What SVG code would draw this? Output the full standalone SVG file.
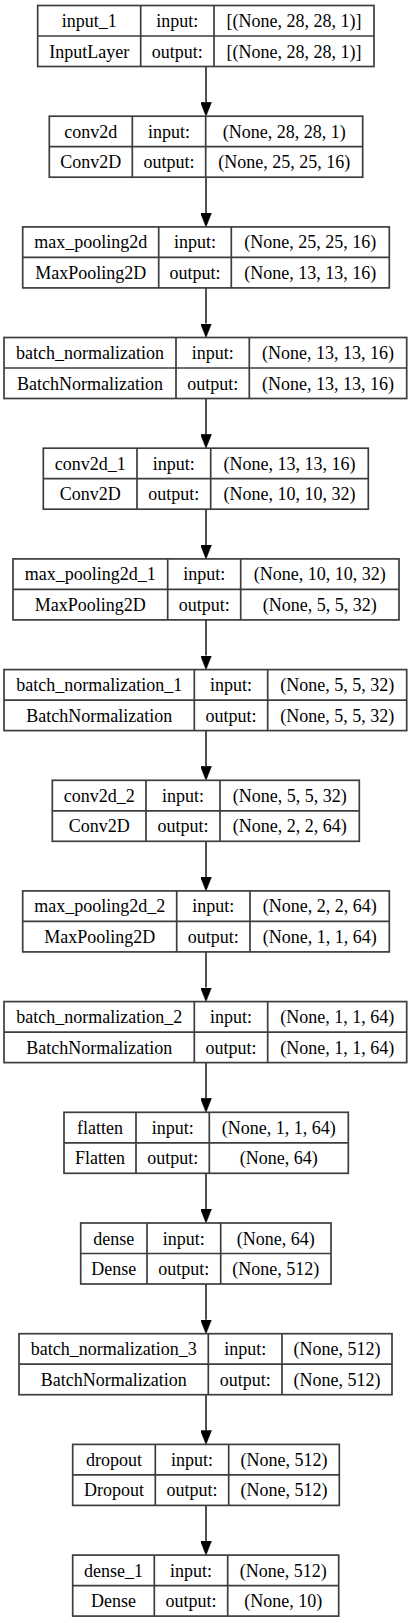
<svg xmlns="http://www.w3.org/2000/svg" width="412" height="1623" viewBox="0 0 412 1623">
<style>
.box{fill:#fff;stroke:#3d3d3d;stroke-width:1.7}
.ln{stroke:#3d3d3d;stroke-width:1.7;fill:none}
.t{font-family:"Liberation Serif","Times New Roman",serif;font-size:18px;fill:#000;text-anchor:middle}
.edge{stroke:#3d3d3d;stroke-width:1.8;fill:none;marker-end:url(#ah)}
</style>
<defs>
<marker id="ah" markerUnits="userSpaceOnUse" viewBox="0 0 14 11" markerWidth="14" markerHeight="11" refX="0" refY="5.5" orient="auto">
<path d="M0,0 L14,5.5 L0,11 z" fill="#000" stroke="#000" stroke-width="0.5"/>
</marker>
</defs>
<rect width="412" height="1623" fill="#fff"/>
<g id="edges">
<line class="edge" x1="206" y1="66.5" x2="206" y2="102.2"/>
<line class="edge" x1="206" y1="177.2" x2="206" y2="212.9"/>
<line class="edge" x1="206" y1="287.9" x2="206" y2="323.5"/>
<line class="edge" x1="206" y1="398.5" x2="206" y2="434.2"/>
<line class="edge" x1="206" y1="509.2" x2="206" y2="544.9"/>
<line class="edge" x1="206" y1="619.9" x2="206" y2="655.6"/>
<line class="edge" x1="206" y1="730.6" x2="206" y2="766.3"/>
<line class="edge" x1="206" y1="841.3" x2="206" y2="876.9"/>
<line class="edge" x1="206" y1="951.9" x2="206" y2="987.6"/>
<line class="edge" x1="206" y1="1062.6" x2="206" y2="1098.3"/>
<line class="edge" x1="206" y1="1173.3" x2="206" y2="1209"/>
<line class="edge" x1="206" y1="1284" x2="206" y2="1319.7"/>
<line class="edge" x1="206" y1="1394.7" x2="206" y2="1430.4"/>
<line class="edge" x1="206" y1="1505.4" x2="206" y2="1541.1"/>
</g>
<g id="input_1" transform="translate(0,5.5)">
<rect class="box" x="37.7" y="0" width="336.3" height="61"/>
<line class="ln" x1="37.7" y1="30.5" x2="374" y2="30.5"/>
<line class="ln" x1="140.7" y1="0" x2="140.7" y2="61"/>
<line class="ln" x1="214" y1="0" x2="214" y2="61"/>
<text class="t" x="89.2" y="21.5">input_1</text><text class="t" x="177.3" y="21.5">input:</text><text class="t" x="294" y="21.5">[(None, 28, 28, 1)]</text>
<text class="t" x="89.2" y="52">InputLayer</text><text class="t" x="177.3" y="52">output:</text><text class="t" x="294" y="52">[(None, 28, 28, 1)]</text>
</g>
<g id="conv2d" transform="translate(0,116.2)">
<rect class="box" x="49.3" y="0" width="313.4" height="61"/>
<line class="ln" x1="49.3" y1="30.5" x2="362.7" y2="30.5"/>
<line class="ln" x1="132.3" y1="0" x2="132.3" y2="61"/>
<line class="ln" x1="205.7" y1="0" x2="205.7" y2="61"/>
<text class="t" x="90.8" y="21.5">conv2d</text><text class="t" x="169" y="21.5">input:</text><text class="t" x="284.2" y="21.5">(None, 28, 28, 1)</text>
<text class="t" x="90.8" y="52">Conv2D</text><text class="t" x="169" y="52">output:</text><text class="t" x="284.2" y="52">(None, 25, 25, 16)</text>
</g>
<g id="max_pooling2d" transform="translate(0,226.9)">
<rect class="box" x="22.7" y="0" width="366.6" height="61"/>
<line class="ln" x1="22.7" y1="30.5" x2="389.3" y2="30.5"/>
<line class="ln" x1="158.7" y1="0" x2="158.7" y2="61"/>
<line class="ln" x1="231.3" y1="0" x2="231.3" y2="61"/>
<text class="t" x="90.7" y="21.5">max_pooling2d</text><text class="t" x="195" y="21.5">input:</text><text class="t" x="310.3" y="21.5">(None, 25, 25, 16)</text>
<text class="t" x="90.7" y="52">MaxPooling2D</text><text class="t" x="195" y="52">output:</text><text class="t" x="310.3" y="52">(None, 13, 13, 16)</text>
</g>
<g id="batch_normalization" transform="translate(0,337.5)">
<rect class="box" x="4" y="0" width="402.7" height="61"/>
<line class="ln" x1="4" y1="30.5" x2="406.7" y2="30.5"/>
<line class="ln" x1="176" y1="0" x2="176" y2="61"/>
<line class="ln" x1="249.3" y1="0" x2="249.3" y2="61"/>
<text class="t" x="90" y="21.5">batch_normalization</text><text class="t" x="212.7" y="21.5">input:</text><text class="t" x="328" y="21.5">(None, 13, 13, 16)</text>
<text class="t" x="90" y="52">BatchNormalization</text><text class="t" x="212.7" y="52">output:</text><text class="t" x="328" y="52">(None, 13, 13, 16)</text>
</g>
<g id="conv2d_1" transform="translate(0,448.2)">
<rect class="box" x="43.3" y="0" width="325" height="61"/>
<line class="ln" x1="43.3" y1="30.5" x2="368.3" y2="30.5"/>
<line class="ln" x1="137" y1="0" x2="137" y2="61"/>
<line class="ln" x1="210.7" y1="0" x2="210.7" y2="61"/>
<text class="t" x="90.2" y="21.5">conv2d_1</text><text class="t" x="173.8" y="21.5">input:</text><text class="t" x="289.5" y="21.5">(None, 13, 13, 16)</text>
<text class="t" x="90.2" y="52">Conv2D</text><text class="t" x="173.8" y="52">output:</text><text class="t" x="289.5" y="52">(None, 10, 10, 32)</text>
</g>
<g id="max_pooling2d_1" transform="translate(0,558.9)">
<rect class="box" x="13" y="0" width="386" height="61"/>
<line class="ln" x1="13" y1="30.5" x2="399" y2="30.5"/>
<line class="ln" x1="167.7" y1="0" x2="167.7" y2="61"/>
<line class="ln" x1="240.7" y1="0" x2="240.7" y2="61"/>
<text class="t" x="90.3" y="21.5">max_pooling2d_1</text><text class="t" x="204.2" y="21.5">input:</text><text class="t" x="319.8" y="21.5">(None, 10, 10, 32)</text>
<text class="t" x="90.3" y="52">MaxPooling2D</text><text class="t" x="204.2" y="52">output:</text><text class="t" x="319.8" y="52">(None, 5, 5, 32)</text>
</g>
<g id="batch_normalization_1" transform="translate(0,669.6)">
<rect class="box" x="4" y="0" width="402.7" height="61"/>
<line class="ln" x1="4" y1="30.5" x2="406.7" y2="30.5"/>
<line class="ln" x1="194.3" y1="0" x2="194.3" y2="61"/>
<line class="ln" x1="267.7" y1="0" x2="267.7" y2="61"/>
<text class="t" x="99.2" y="21.5">batch_normalization_1</text><text class="t" x="231" y="21.5">input:</text><text class="t" x="337.2" y="21.5">(None, 5, 5, 32)</text>
<text class="t" x="99.2" y="52">BatchNormalization</text><text class="t" x="231" y="52">output:</text><text class="t" x="337.2" y="52">(None, 5, 5, 32)</text>
</g>
<g id="conv2d_2" transform="translate(0,780.3)">
<rect class="box" x="52.3" y="0" width="307" height="61"/>
<line class="ln" x1="52.3" y1="30.5" x2="359.3" y2="30.5"/>
<line class="ln" x1="146" y1="0" x2="146" y2="61"/>
<line class="ln" x1="220" y1="0" x2="220" y2="61"/>
<text class="t" x="99.2" y="21.5">conv2d_2</text><text class="t" x="183" y="21.5">input:</text><text class="t" x="289.7" y="21.5">(None, 5, 5, 32)</text>
<text class="t" x="99.2" y="52">Conv2D</text><text class="t" x="183" y="52">output:</text><text class="t" x="289.7" y="52">(None, 2, 2, 64)</text>
</g>
<g id="max_pooling2d_2" transform="translate(0,890.9)">
<rect class="box" x="22.7" y="0" width="366.6" height="61"/>
<line class="ln" x1="22.7" y1="30.5" x2="389.3" y2="30.5"/>
<line class="ln" x1="176.7" y1="0" x2="176.7" y2="61"/>
<line class="ln" x1="250" y1="0" x2="250" y2="61"/>
<text class="t" x="99.7" y="21.5">max_pooling2d_2</text><text class="t" x="213.3" y="21.5">input:</text><text class="t" x="319.7" y="21.5">(None, 2, 2, 64)</text>
<text class="t" x="99.7" y="52">MaxPooling2D</text><text class="t" x="213.3" y="52">output:</text><text class="t" x="319.7" y="52">(None, 1, 1, 64)</text>
</g>
<g id="batch_normalization_2" transform="translate(0,1001.6)">
<rect class="box" x="4" y="0" width="402.7" height="61"/>
<line class="ln" x1="4" y1="30.5" x2="406.7" y2="30.5"/>
<line class="ln" x1="194.3" y1="0" x2="194.3" y2="61"/>
<line class="ln" x1="267.7" y1="0" x2="267.7" y2="61"/>
<text class="t" x="99.2" y="21.5">batch_normalization_2</text><text class="t" x="231" y="21.5">input:</text><text class="t" x="337.2" y="21.5">(None, 1, 1, 64)</text>
<text class="t" x="99.2" y="52">BatchNormalization</text><text class="t" x="231" y="52">output:</text><text class="t" x="337.2" y="52">(None, 1, 1, 64)</text>
</g>
<g id="flatten" transform="translate(0,1112.3)">
<rect class="box" x="64" y="0" width="284.3" height="61"/>
<line class="ln" x1="64" y1="30.5" x2="348.3" y2="30.5"/>
<line class="ln" x1="136" y1="0" x2="136" y2="61"/>
<line class="ln" x1="209.3" y1="0" x2="209.3" y2="61"/>
<text class="t" x="100" y="21.5">flatten</text><text class="t" x="172.7" y="21.5">input:</text><text class="t" x="278.8" y="21.5">(None, 1, 1, 64)</text>
<text class="t" x="100" y="52">Flatten</text><text class="t" x="172.7" y="52">output:</text><text class="t" x="278.8" y="52">(None, 64)</text>
</g>
<g id="dense" transform="translate(0,1223)">
<rect class="box" x="80.7" y="0" width="250.3" height="61"/>
<line class="ln" x1="80.7" y1="30.5" x2="331" y2="30.5"/>
<line class="ln" x1="147" y1="0" x2="147" y2="61"/>
<line class="ln" x1="220.7" y1="0" x2="220.7" y2="61"/>
<text class="t" x="113.8" y="21.5">dense</text><text class="t" x="183.8" y="21.5">input:</text><text class="t" x="275.8" y="21.5">(None, 64)</text>
<text class="t" x="113.8" y="52">Dense</text><text class="t" x="183.8" y="52">output:</text><text class="t" x="275.8" y="52">(None, 512)</text>
</g>
<g id="batch_normalization_3" transform="translate(0,1333.7)">
<rect class="box" x="19" y="0" width="373" height="61"/>
<line class="ln" x1="19" y1="30.5" x2="392" y2="30.5"/>
<line class="ln" x1="208.3" y1="0" x2="208.3" y2="61"/>
<line class="ln" x1="282" y1="0" x2="282" y2="61"/>
<text class="t" x="113.7" y="21.5">batch_normalization_3</text><text class="t" x="245.2" y="21.5">input:</text><text class="t" x="337" y="21.5">(None, 512)</text>
<text class="t" x="113.7" y="52">BatchNormalization</text><text class="t" x="245.2" y="52">output:</text><text class="t" x="337" y="52">(None, 512)</text>
</g>
<g id="dropout" transform="translate(0,1444.4)">
<rect class="box" x="72.7" y="0" width="266.6" height="61"/>
<line class="ln" x1="72.7" y1="30.5" x2="339.3" y2="30.5"/>
<line class="ln" x1="155.3" y1="0" x2="155.3" y2="61"/>
<line class="ln" x1="228.7" y1="0" x2="228.7" y2="61"/>
<text class="t" x="114" y="21.5">dropout</text><text class="t" x="192" y="21.5">input:</text><text class="t" x="284" y="21.5">(None, 512)</text>
<text class="t" x="114" y="52">Dropout</text><text class="t" x="192" y="52">output:</text><text class="t" x="284" y="52">(None, 512)</text>
</g>
<g id="dense_1" transform="translate(0,1555.1)">
<rect class="box" x="72.7" y="0" width="266" height="61"/>
<line class="ln" x1="72.7" y1="30.5" x2="338.7" y2="30.5"/>
<line class="ln" x1="154.3" y1="0" x2="154.3" y2="61"/>
<line class="ln" x1="227.7" y1="0" x2="227.7" y2="61"/>
<text class="t" x="113.5" y="21.5">dense_1</text><text class="t" x="191" y="21.5">input:</text><text class="t" x="283.2" y="21.5">(None, 512)</text>
<text class="t" x="113.5" y="52">Dense</text><text class="t" x="191" y="52">output:</text><text class="t" x="283.2" y="52">(None, 10)</text>
</g>
</svg>
